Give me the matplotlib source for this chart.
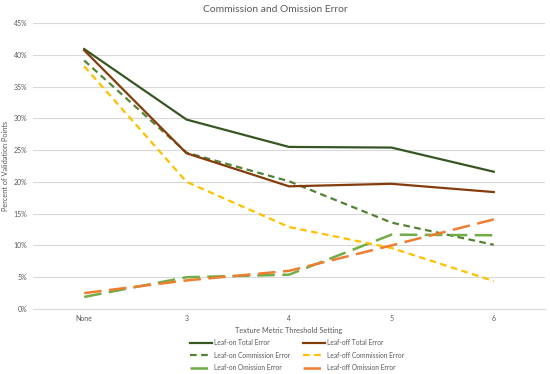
import numpy as np
import matplotlib
matplotlib.use('Agg')
import matplotlib.pyplot as plt
from matplotlib.ticker import PercentFormatter

plt.rcParams['font.family'] = ['Lato', 'DejaVu Sans']

categories = ['None', '3', '4', '5', '6']

leaf_on_total = [40.9, 29.8, 25.5, 25.4, 21.6]
leaf_off_total = [40.7, 24.5, 19.3, 19.7, 18.4]
leaf_on_commission = [39.1, 24.6, 20.1, 13.6, 10.1]
leaf_off_commission = [38.2, 20.0, 12.9, 9.6, 4.4]
leaf_on_omission = [1.9, 5.0, 5.4, 11.7, 11.6]
leaf_off_omission = [2.5, 4.5, 6.0, 10.0, 14.1]

x = np.arange(len(categories))

fig = plt.figure(figsize=(5.5, 3.74), dpi=100)
ax = fig.add_axes([33 / 550, 1 - 309 / 374, 512 / 550, 286 / 374])

# estilos de linea tipo Excel
ax.plot(x, leaf_on_total, color='#375623', lw=1.6, label='Leaf-on Total Error')
ax.plot(x, leaf_on_commission, color='#548235', lw=1.6, dashes=(3, 2), label='Leaf-on Commission Error')
ax.plot(x, leaf_on_omission, color='#70AD47', lw=1.8, dashes=(7, 3), label='Leaf-on Omission Error')
ax.plot(x, leaf_off_total, color='#843C0C', lw=1.6, label='Leaf-off Total Error')
ax.plot(x, leaf_off_commission, color='#FFC000', lw=1.6, dashes=(3, 2), label='Leaf-off Commission Error')
ax.plot(x, leaf_off_omission, color='#ED7D31', lw=1.8, dashes=(7, 3), label='Leaf-off Omission Error')

ax.set_xlim(-0.5, len(categories) - 0.5)
ax.set_ylim(0, 45)
ax.set_yticks(np.arange(0, 46, 5))
ax.yaxis.set_major_formatter(PercentFormatter(decimals=0))
ax.set_xticks(x)
ax.set_xticklabels(categories)
ax.grid(axis='y', color='#D9D9D9', lw=0.8)
ax.set_axisbelow(True)
for s in ['top', 'right', 'left']:
    ax.spines[s].set_visible(False)
ax.spines['bottom'].set_color('#D9D9D9')
ax.tick_params(axis='both', length=0, labelsize=5, colors='#595959', pad=4)
ax.tick_params(axis='x', pad=4)

ax.set_title('Commission and Omission Error', fontsize=7.4, color='#595959', pad=8,
             x=(275 - 33) / 512)
ax.set_xlabel('Texture Metric Threshold Setting', fontsize=5.3, color='#595959', labelpad=4)
ax.set_ylabel('Percent of Validation Points', fontsize=5.3, color='#595959')
ax.yaxis.set_label_coords(-24 / 512, 0.5)

leg = fig.legend(*ax.get_legend_handles_labels(), ncol=2, loc='upper center',
                 bbox_to_anchor=(297 / 550, 1 - 336 / 374), frameon=False,
                 fontsize=4.8, handlelength=3.2, handletextpad=0.3, columnspacing=2.0,
                 labelspacing=0.8, borderpad=0)
for t in leg.get_texts():
    t.set_color('#595959')

fig.savefig('out.png', dpi=100)
